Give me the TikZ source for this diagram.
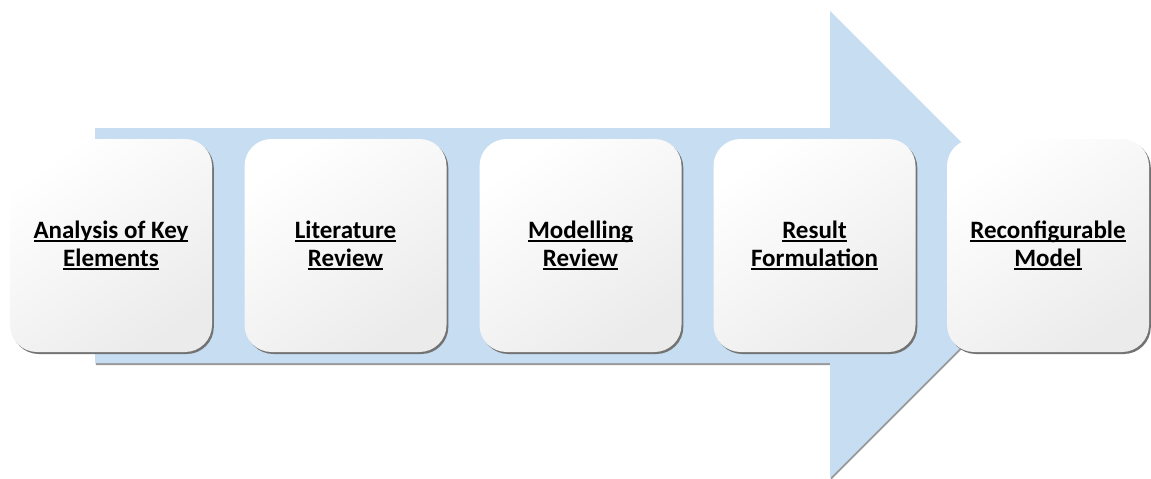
\documentclass[tikz,border=0pt]{standalone}
\usepackage{fontspec}
\setmainfont{Carlito}
\usetikzlibrary{shadows}
\newcommand{\myul}[1]{\setbox0\hbox{#1}\rlap{\rule[-3.2pt]{\wd0}{1.4pt}}\box0}
\definecolor{arrowblue}{HTML}{C6DDF2}
\definecolor{boxgray}{HTML}{EBEBEB}
\tikzset{
  stagebox/.style={rectangle, rounded corners=27pt, minimum width=202pt, minimum height=213pt,
    inner sep=0pt, align=center, shading=axis, top color=white, bottom color=boxgray, shading angle=35,
    general shadow={fill=black!55, shadow xshift=1.8pt, shadow yshift=-2pt},
    font=\fontsize{25pt}{28pt}\selectfont\bfseries},
  bigarrow/.style={fill=arrowblue, general shadow={fill=black!40, shadow xshift=0.8pt, shadow yshift=-2pt}}
}
\begin{document}
\begin{tikzpicture}[x=1pt,y=-1pt]
\useasboundingbox (0,0) rectangle (1151,479);
\coordinate (a1) at (95,128);
\coordinate (a2) at (830,128);
\coordinate (a3) at (830,11);
\coordinate (a4) at (1063.5,244.5);
\coordinate (a5) at (830,478);
\coordinate (a6) at (830,363);
\coordinate (a7) at (95,363);
\path[bigarrow] (a1) -- (a2) -- (a3) -- (a4) -- (a5) -- (a6) -- (a7) -- cycle;
\node[stagebox] (s1) at (111,245.5) {\myul{Analysis of Key}\\\myul{Elements}};
\node[stagebox] (s2) at (345.5,245.5) {\myul{Literature}\\\myul{Review}};
\node[stagebox] (s3) at (580.5,245.5) {\myul{Modelling}\\\myul{Review}};
\node[stagebox] (s4) at (814.5,245.5) {\myul{Result}\\\myul{Formulation}};
\node[stagebox] (s5) at (1048,245.5) {\myul{Reconfigurable}\\\myul{Model}};
\end{tikzpicture}
\end{document}
